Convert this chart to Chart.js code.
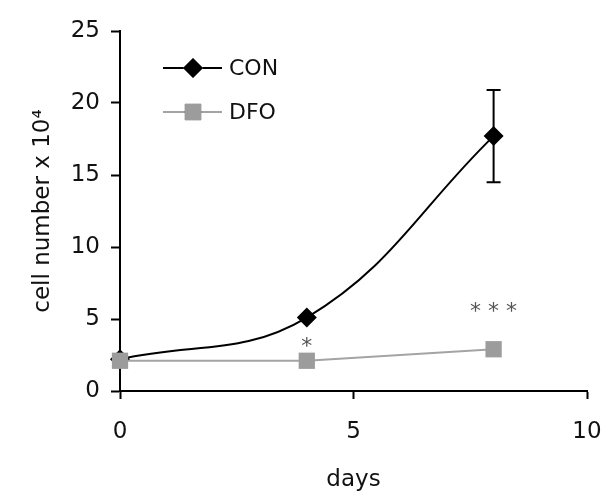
<!DOCTYPE html>
<html>
<head>
<meta charset="utf-8">
<script src="https://cdn.jsdelivr.net/npm/chart.js@4.4.0/dist/chart.umd.min.js"></script>
<style>
  html, body { margin: 0; padding: 0; background: #fff; }
</style>
</head>
<body>
<canvas id="growthChart" width="604" height="497"></canvas>
<script>
// cell counts (x 10^4) per day
const days = [0, 4, 8];
const conCells = [2.2, 5.1, 17.7];
const conError = [0, 0, 3.2];
const dfoCells = [2.1, 2.1, 2.9];

// significance marks above the DFO series
const sigDays = [4, 8];
const sigLevels = [3.5, 5.9];
const sigMarks = ['*', '* * *'];

const seriesNames = ['CON', 'DFO'];
const FONT = 'DejaVu Sans';

const toPoints = (xs, ys) => xs.map((x, i) => ({ x: x, y: ys[i] }));

// error bars on CON
const errorBars = {
  id: 'errorBars',
  afterDatasetsDraw(chart) {
    const { ctx, scales: { x, y } } = chart;
    ctx.save();
    ctx.strokeStyle = '#000';
    ctx.lineWidth = 2;
    days.forEach((d, i) => {
      if (!conError[i]) return;
      const px = x.getPixelForValue(d);
      const top = y.getPixelForValue(conCells[i] + conError[i]);
      const bot = y.getPixelForValue(conCells[i] - conError[i]);
      ctx.beginPath();
      ctx.moveTo(px, top); ctx.lineTo(px, bot);
      ctx.moveTo(px - 7, top); ctx.lineTo(px + 7, top);
      ctx.moveTo(px - 7, bot); ctx.lineTo(px + 7, bot);
      ctx.stroke();
    });
    ctx.restore();
  }
};

// asterisks
const sigLabels = {
  id: 'sigLabels',
  afterDatasetsDraw(chart) {
    const { ctx, scales: { x, y } } = chart;
    ctx.save();
    ctx.fillStyle = '#555';
    ctx.font = '22px "' + FONT + '"';
    ctx.textAlign = 'center';
    ctx.textBaseline = 'alphabetic';
    sigDays.forEach((d, i) => {
      ctx.fillText(sigMarks[i], x.getPixelForValue(d), y.getPixelForValue(sigLevels[i]) + 12);
    });
    ctx.restore();
  }
};

// legend inside the plot, line + marker + name
const innerLegend = {
  id: 'innerLegend',
  afterDraw(chart) {
    const { ctx, chartArea } = chart;
    ctx.save();
    ctx.font = '22px "' + FONT + '"';
    ctx.textBaseline = 'middle';
    chart.data.datasets.slice().reverse().forEach((ds, i) => {
      const y0 = chartArea.top + 37 + i * 44;
      const x0 = chartArea.left + 43;
      ctx.strokeStyle = ds.borderColor;
      ctx.lineWidth = 2;
      ctx.beginPath();
      ctx.moveTo(x0, y0); ctx.lineTo(x0 + 59, y0);
      ctx.stroke();
      Chart.helpers.drawPoint(ctx, {
        pointStyle: ds.pointStyle, radius: ds.pointRadius, borderWidth: 0
      }, x0 + 30, y0);
      ctx.fillStyle = ds.pointBackgroundColor;
      ctx.fill();
      ctx.fillStyle = '#111';
      ctx.fillText(ds.label, x0 + 66, y0 + 1);
    });
    ctx.restore();
  }
};

const tickFont = { family: FONT, size: 23 };

new Chart(document.getElementById('growthChart'), {
  type: 'scatter',
  data: {
    datasets: [
      {
        label: seriesNames[1],
        data: toPoints(days, dfoCells),
        showLine: true,
        tension: 0,
        borderColor: '#a4a4a4',
        borderWidth: 2,
        pointStyle: 'rect',
        pointRadius: 11.5,
        pointBackgroundColor: '#9c9c9c',
        pointBorderWidth: 0,
        clip: false
      },
      {
        label: seriesNames[0],
        data: toPoints(days, conCells),
        showLine: true,
        tension: 0.4,
        borderColor: '#000',
        borderWidth: 2,
        pointStyle: 'rectRot',
        pointRadius: 10,
        pointBackgroundColor: '#000',
        pointBorderWidth: 0,
        clip: false
      }
    ]
  },
  options: {
    responsive: false,
    animation: false,
    layout: { padding: { top: 31, right: 0, left: 0, bottom: 0 } },
    plugins: { legend: { display: false }, tooltip: { enabled: false } },
    scales: {
      x: {
        type: 'linear', min: 0, max: 10,
        ticks: { stepSize: 5, font: tickFont, color: '#111', padding: 19, maxRotation: 0 },
        grid: { drawOnChartArea: false, color: '#000', tickLength: 8, tickWidth: 2 },
        border: { color: '#000', width: 2 },
        title: { display: true, text: 'days', font: tickFont, color: '#111', padding: { top: 0, bottom: 3 } },
        afterFit(scale) {
          scale.height = 106;
          // keep room only for half of the "10" label on the right
          scale.paddingRight = 17;
        }
      },
      y: {
        min: 0, max: 25,
        ticks: { stepSize: 5, font: tickFont, color: '#111', padding: 11 },
        grid: { drawOnChartArea: false, color: '#000', tickLength: 9, tickWidth: 2 },
        border: { color: '#000', width: 2 },
        title: { display: true, text: 'cell number x 10\u2074', font: { family: FONT, size: 23 }, color: '#111', padding: { top: 29, bottom: 0 } },
        afterFit(scale) { scale.width = 120; }
      }
    }
  },
  plugins: [errorBars, sigLabels, innerLegend]
});
</script>
</body>
</html>
